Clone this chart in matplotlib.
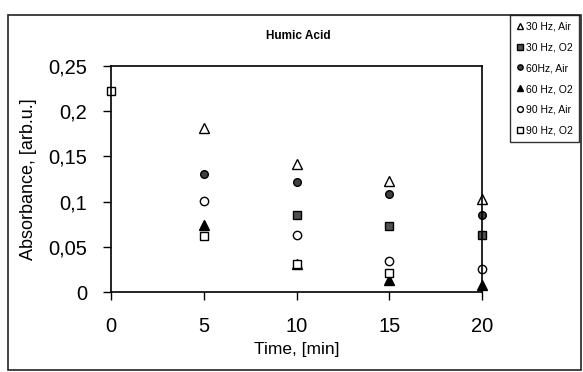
import numpy as np
import matplotlib
matplotlib.use("Agg")
import matplotlib.pyplot as plt
from matplotlib.patches import Rectangle

plt.rcParams["font.family"] = ["Liberation Sans", "DejaVu Sans"]

# data
time_min = [0, 5, 10, 15, 20]
hz30_air = [np.nan, 0.181, 0.142, 0.123, 0.103]
hz30_o2 = [np.nan, np.nan, 0.085, 0.073, 0.063]
hz60_air = [np.nan, 0.131, 0.122, 0.108, 0.085]
hz60_o2 = [np.nan, 0.074, 0.031, 0.013, 0.008]
hz90_air = [np.nan, 0.101, 0.063, 0.034, 0.025]
hz90_o2 = [0.222, 0.062, 0.031, 0.021, np.nan]

labels = ["30 Hz, Air", "30 Hz, O2", "60Hz, Air", "60 Hz, O2", "90 Hz, Air", "90 Hz, O2"]
x_ticks = [0, 5, 10, 15, 20]
y_ticks = [0, 0.05, 0.1, 0.15, 0.2, 0.25]
y_ticklabels = ["0", "0,05", "0,1", "0,15", "0,2", "0,25"]

styles = [
    dict(marker="^", mfc="white", mec="black", ms=6.5),
    dict(marker="s", mfc="#505050", mec="black", ms=5.5),
    dict(marker="o", mfc="#404040", mec="black", ms=5.5),
    dict(marker="^", mfc="black", mec="black", ms=6.5),
    dict(marker="o", mfc="white", mec="black", ms=6),
    dict(marker="s", mfc="white", mec="black", ms=6),
]
series = [hz30_air, hz30_o2, hz60_air, hz60_o2, hz90_air, hz90_o2]

fig = plt.figure(figsize=(5.83, 3.72), dpi=100)
ax = fig.add_axes([111 / 583, 1 - 292 / 372, (482 - 111) / 583, (292 - 66) / 372])

handles = []
for vals, lab, st in zip(series, labels, styles):
    h, = ax.plot(time_min, vals, linestyle="none", mew=1.0, label=lab, clip_on=False, **st)
    handles.append(h)

ax.set_xlim(0, 20)
ax.set_ylim(0, 0.25)
ax.set_xticks(x_ticks)
ax.set_yticks(y_ticks)
ax.set_yticklabels(y_ticklabels)
ax.tick_params(axis="both", direction="out", length=6, width=1, labelsize=14.5)
ax.tick_params(axis="x", pad=12)
ax.tick_params(axis="y", pad=11)
for sp in ax.spines.values():
    sp.set_linewidth(1.2)

ax.set_xlabel("Time, [min]", fontsize=12.5, labelpad=4)
ax.set_ylabel("Absorbance, [arb.u.]", fontsize=13, labelpad=8)

fig.text(298 / 583, 1 - 36 / 372, "Humic Acid", ha="center", va="center",
         fontsize=8.5, fontweight="bold")

# outer chart border
fig.patches.append(Rectangle((8 / 583, 2 / 372), 573 / 583, 355 / 372,
                             transform=fig.transFigure, fill=False,
                             edgecolor="#222222", linewidth=1.2))

leg = fig.legend(handles=handles, loc="upper right", bbox_to_anchor=(579 / 583, 1 - 15 / 372),
                 fontsize=7.5, frameon=True, fancybox=False, edgecolor="black",
                 handlelength=0.6, handletextpad=0.3, labelspacing=1.05,
                 borderpad=0.6, borderaxespad=0, markerscale=0.7)
leg.get_frame().set_linewidth(1.0)

fig.savefig("out.png", dpi=100, facecolor="white")
